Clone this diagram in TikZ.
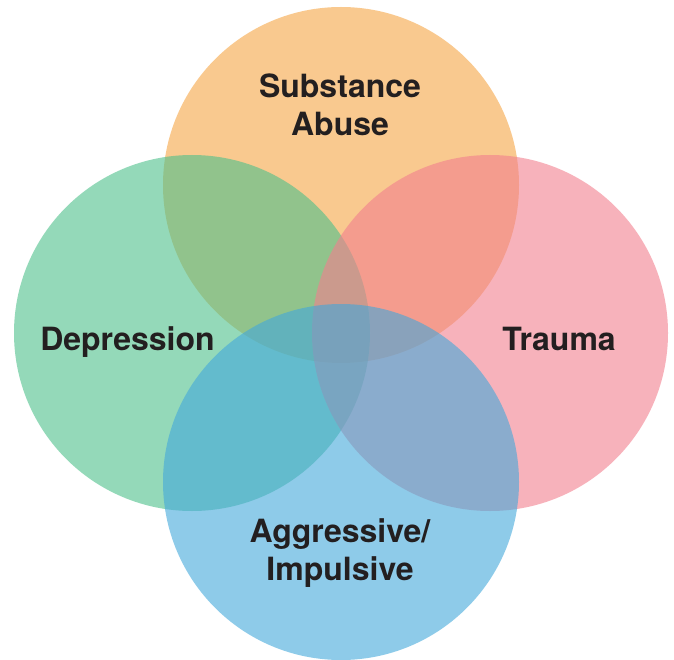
\documentclass[tikz,border=0pt]{standalone}
\usepackage{fontspec}
\setmainfont{TeX Gyre Heros}
\definecolor{corange}{RGB}{245,165,68}
\definecolor{cgreen}{RGB}{77,192,138}
\definecolor{cpink}{RGB}{242,127,142}
\definecolor{cblue}{RGB}{67,168,218}
\definecolor{ctext}{RGB}{35,31,32}
\tikzset{
  venn/.style={circle, minimum size=356pt, inner sep=0pt, draw=none, fill opacity=0.6},
  lbl/.style={font=\fontsize{32}{38}\selectfont\bfseries, text=ctext, align=center, inner sep=0pt}
}
\begin{document}
\begin{tikzpicture}[x=1pt, y=-1pt]
\useasboundingbox (0,0) rectangle (674,660);
\node[venn, fill=corange] (sub) at (341,185) {};
\node[venn, fill=cgreen] (dep) at (192,333) {};
\node[venn, fill=cpink] (tra) at (490,333) {};
\node[venn, fill=cblue] (agg) at (341,482) {};
\node[lbl] (tsub) at (340,105) {Substance\\Abuse};
\node[lbl, anchor=base] (tdep) at (127.5,350) {Depression};
\node[lbl, anchor=base] (ttra) at (559,350) {Trauma};
\node[lbl] (tagg) at (340,553) {Aggressive/\\Impulsive};
\end{tikzpicture}
\end{document}
